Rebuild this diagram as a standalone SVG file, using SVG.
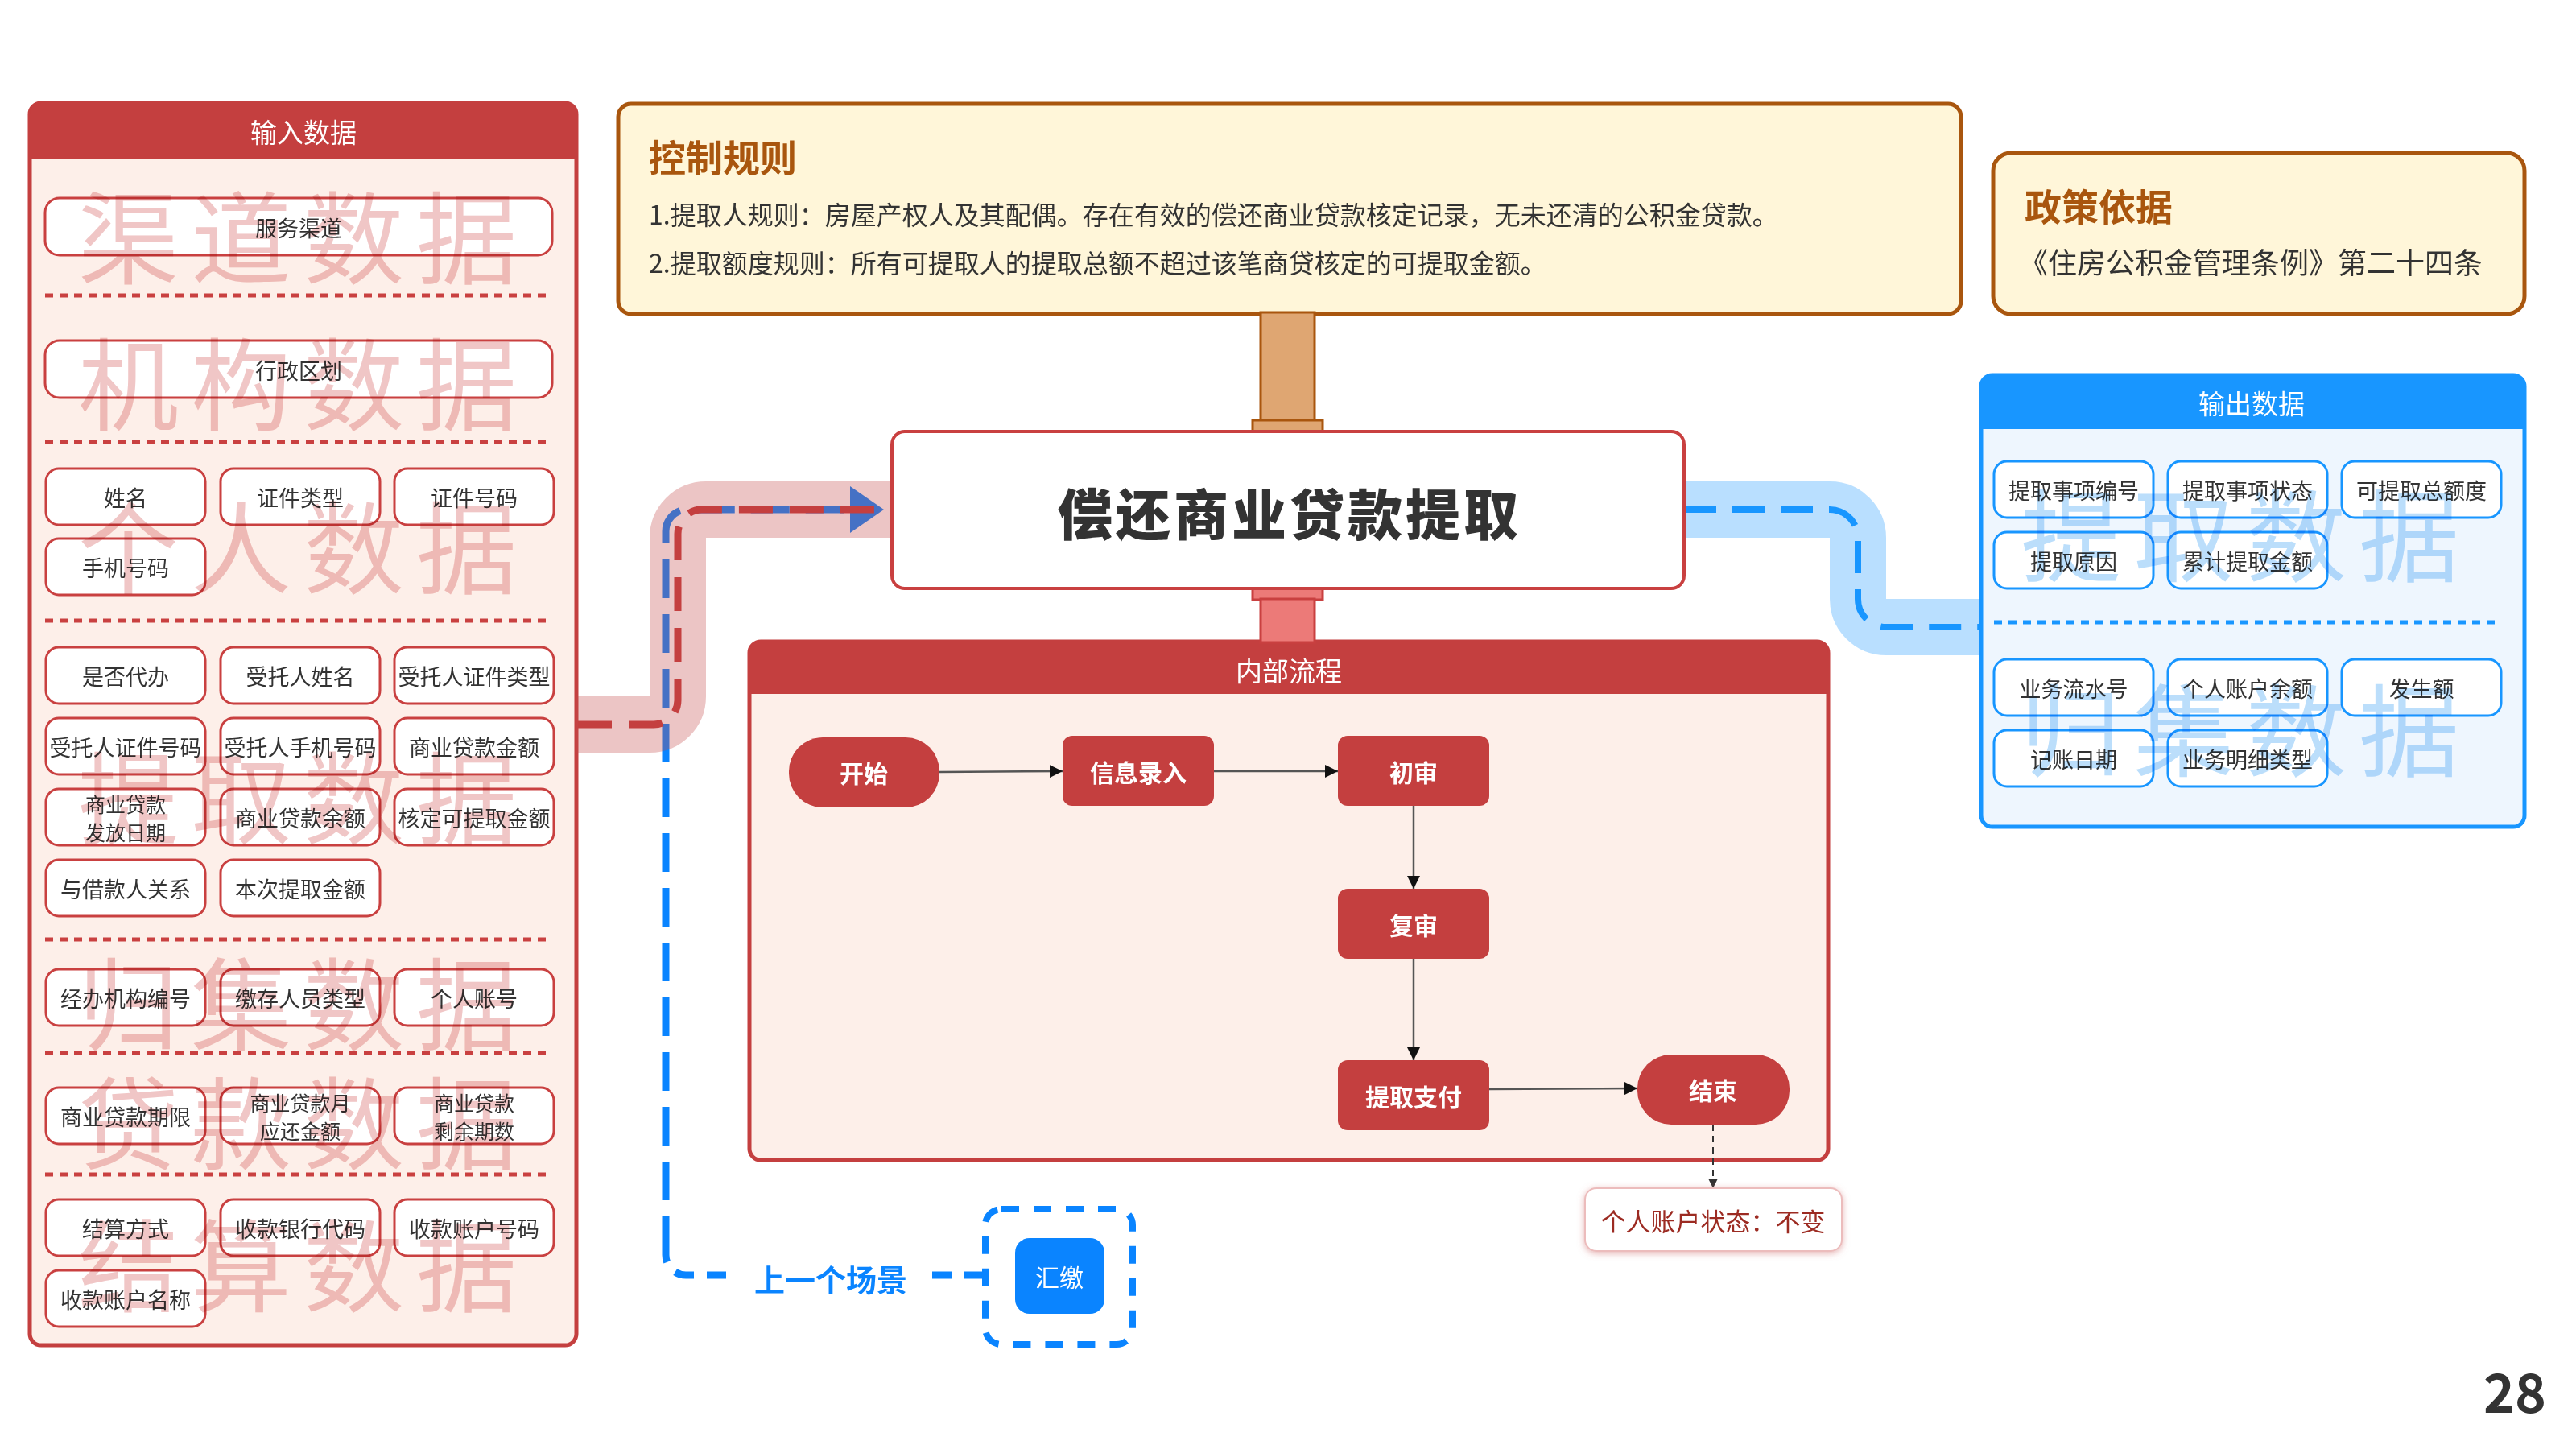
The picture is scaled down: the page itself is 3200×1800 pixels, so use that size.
<svg xmlns="http://www.w3.org/2000/svg" width="3200" height="1800" viewBox="0 0 3200 1800">
<defs>
<style>
text{font-family:"Noto Sans CJK SC","Noto Sans",sans-serif}
.pnl-r{fill:#fdefe9;stroke:#c43f3f;stroke-width:5}
.hdr-r{fill:#c43f3f}
.pnl-b{fill:#eef6fe;stroke:#1896ff;stroke-width:5}
.hdr-b{fill:#1896ff}
.htx{font-size:33px;fill:#fff;text-anchor:middle;dominant-baseline:central}
.bx-r{fill:#fff;stroke:#c94040;stroke-width:3}
.bx-b{fill:#fff;stroke:#1896ff;stroke-width:3}
.lb{font-size:27px;fill:#333;text-anchor:middle;dominant-baseline:central}
.lb2{font-size:25px;fill:#333;text-anchor:middle;dominant-baseline:central}
.dot-r{stroke:#c94040;stroke-width:5;stroke-dasharray:10 8;fill:none}
.dot-b{stroke:#1896ff;stroke-width:5;stroke-dasharray:10 8;fill:none}
.wm-r{font-size:125px;fill:#f0c6c6;letter-spacing:15px;mix-blend-mode:multiply;dominant-baseline:central}
.wm-b{font-size:125px;fill:#bbdefb;letter-spacing:15px;mix-blend-mode:multiply;dominant-baseline:central}
.fn{fill:#c43f3f}
.ft{font-size:30px;font-weight:700;fill:#fff;text-anchor:middle;dominant-baseline:central}
.fl{stroke:#555;stroke-width:2.5;fill:none;marker-end:url(#arr)}
.cream{fill:#fff6d9;stroke:#a9560e;stroke-width:5}
.ttl{font-size:46px;font-weight:700;fill:#a9560e}
.rule{font-size:32px;fill:#333;dominant-baseline:central}
</style>
<marker id="arr" viewBox="0 0 10 10" refX="10" refY="5" markerWidth="16" markerHeight="16" markerUnits="userSpaceOnUse" orient="auto"><path d="M0,0 L10,5 L0,10 z" fill="#111"/></marker>
<marker id="arr2" viewBox="0 0 10 10" refX="10" refY="5" markerWidth="12" markerHeight="12" markerUnits="userSpaceOnUse" orient="auto"><path d="M0,0 L10,5 L0,10 z" fill="#333"/></marker>
<filter id="sh" x="-20%" y="-30%" width="140%" height="160%"><feDropShadow dx="0" dy="2" stdDeviation="4" flood-color="#d07070" flood-opacity="0.55"/></filter>
</defs>
<rect width="3200" height="1800" fill="#fff"/>

<!-- Input panel -->
<g id="input-panel">
<rect class="pnl-r" x="37" y="128" width="679" height="1543" rx="14"/>
<path class="hdr-r" d="M37,142 A14,14 0 0 1 51,128 H702 A14,14 0 0 1 716,142 V197 H37 Z"/>
<text class="htx" x="377" y="163">输入数据</text>
<line class="dot-r" x1="56" y1="367" x2="686" y2="367"/>
<line class="dot-r" x1="56" y1="549" x2="686" y2="549"/>
<line class="dot-r" x1="56" y1="771" x2="686" y2="771"/>
<line class="dot-r" x1="56" y1="1167" x2="686" y2="1167"/>
<line class="dot-r" x1="56" y1="1308" x2="686" y2="1308"/>
<line class="dot-r" x1="56" y1="1459" x2="686" y2="1459"/>
</g>

<!-- Output panel -->
<g id="output-panel">
<rect class="pnl-b" x="2461" y="466" width="675" height="561" rx="14"/>
<path class="hdr-b" d="M2461,480 A14,14 0 0 1 2475,466 H3122 A14,14 0 0 1 3136,480 V533 H2461 Z"/>
<text class="htx" x="2797" y="500">输出数据</text>
<line class="dot-b" x1="2477" y1="773" x2="3107" y2="773"/>
</g>

<!-- Internal process panel -->
<g id="process-panel">
<rect class="pnl-r" x="931" y="797" width="1340" height="644" rx="14"/>
<path class="hdr-r" d="M931,811 A14,14 0 0 1 945,797 H2257 A14,14 0 0 1 2271,811 V862 H931 Z"/>
<text class="htx" x="1601" y="832">内部流程</text>
</g>

<!-- Control rules -->
<g id="control-rules">
<rect class="cream" x="768" y="129" width="1668" height="261" rx="16"/>
<text class="ttl" x="806" y="193" dominant-baseline="central">控制规则</text>
<text class="rule" x="806" y="265">1.提取人规则：房屋产权人及其配偶。存在有效的偿还商业贷款核定记录，无未还清的公积金贷款。</text>
<text class="rule" x="806" y="325">2.提取额度规则：所有可提取人的提取总额不超过该笔商贷核定的可提取金额。</text>
</g>

<!-- Policy -->
<g id="policy">
<rect class="cream" x="2476" y="190" width="660" height="200" rx="22"/>
<text class="ttl" x="2515" y="254" dominant-baseline="central">政策依据</text>
<text x="2508" y="324" font-size="36" fill="#333" dominant-baseline="central">《住房公积金管理条例》第二十四条</text>
</g>

<!-- Connectors -->
<g id="connectors">
<rect x="1566" y="388" width="67" height="136" fill="#dfa672" stroke="#a9560e" stroke-width="3"/>
<rect x="1556" y="522" width="87" height="15" fill="#dfa672" stroke="#a9560e" stroke-width="3"/>
<rect x="1556" y="730" width="87" height="15" fill="#ec7a78" stroke="#c94040" stroke-width="3"/>
<rect x="1566" y="744" width="67" height="54" fill="#ec7a78" stroke="#c94040" stroke-width="3"/>
<path d="M1222,1584 H852 A25,25 0 0 1 827,1559" fill="none" stroke="#0a84ff" stroke-width="9" stroke-dasharray="24 16"/>
<path d="M827,1559 V660 A27,27 0 0 1 854,633 H1058" fill="none" stroke="#0a84ff" stroke-width="9" stroke-dasharray="48 20"/>
<polygon points="1056,604 1098,633 1056,662" fill="#0a84ff"/>
<path d="M716,900 H807 A35,35 0 0 0 842,865 V668 A35,35 0 0 1 877,633 H1108" fill="none" stroke="#c44a4a" stroke-opacity="0.32" stroke-width="70"/>
<path d="M718,900 H812 A30,30 0 0 0 842,870 V663 A30,30 0 0 1 872,633 H1108" fill="none" stroke="#c43f3f" stroke-width="9" stroke-dasharray="42 21"/>
<rect x="906" y="1560" width="250" height="52" fill="#fff"/>
<text x="1032" y="1587" font-size="38" font-weight="700" fill="#0a84ff" text-anchor="middle" dominant-baseline="central">上一个场景</text>
<path d="M2092,633 H2273 A35,35 0 0 1 2308,668 V744 A35,35 0 0 0 2343,779 H2461" fill="none" stroke="#1896ff" stroke-opacity="0.3" stroke-width="70"/>
<path d="M2092,633 H2273 A35,35 0 0 1 2308,668 V744 A35,35 0 0 0 2343,779 H2461" fill="none" stroke="#1896ff" stroke-width="8" stroke-dasharray="40 20"/>
<line class="fl" x1="1167" y1="959" x2="1320" y2="958"/>
<line class="fl" x1="1508" y1="958" x2="1662" y2="958"/>
<line class="fl" x1="1756" y1="1001" x2="1756" y2="1104"/>
<line class="fl" x1="1756" y1="1191" x2="1756" y2="1317"/>
<line class="fl" x1="1850" y1="1353" x2="2034" y2="1352"/>
<line x1="2128" y1="1397" x2="2128" y2="1476" stroke="#333" stroke-width="2" stroke-dasharray="8 6" marker-end="url(#arr2)"/>
</g>

<!-- Main node -->
<g id="main-node">
<rect x="1108" y="536" width="984" height="195" rx="16" fill="#fff" stroke="#c94040" stroke-width="4"/>
<text x="1602" y="635" font-size="68" font-weight="900" fill="#333" letter-spacing="4" text-anchor="middle" dominant-baseline="central">偿还商业贷款提取</text>
</g>

<!-- Input boxes -->
<g id="in-fuwuqudao"><rect class="bx-r" x="56" y="246" width="630" height="71" rx="18"/><text class="lb" x="371" y="282">服务渠道</text></g>
<g id="in-xingzhengquhua"><rect class="bx-r" x="56" y="423" width="630" height="71" rx="18"/><text class="lb" x="371" y="459">行政区划</text></g>
<g id="in-xingming"><rect class="bx-r" x="57" y="582" width="198" height="70" rx="16"/><text class="lb" x="156" y="617">姓名</text></g>
<g id="in-zjlx"><rect class="bx-r" x="274" y="582" width="198" height="70" rx="16"/><text class="lb" x="373" y="617">证件类型</text></g>
<g id="in-zjhm"><rect class="bx-r" x="490" y="582" width="198" height="70" rx="16"/><text class="lb" x="589" y="617">证件号码</text></g>
<g id="in-sjhm"><rect class="bx-r" x="57" y="669" width="198" height="70" rx="16"/><text class="lb" x="156" y="704">手机号码</text></g>
<g id="in-sfdb"><rect class="bx-r" x="57" y="804" width="198" height="70" rx="16"/><text class="lb" x="156" y="839">是否代办</text></g>
<g id="in-strxm"><rect class="bx-r" x="274" y="804" width="198" height="70" rx="16"/><text class="lb" x="373" y="839">受托人姓名</text></g>
<g id="in-strzjlx"><rect class="bx-r" x="490" y="804" width="198" height="70" rx="16"/><text class="lb" x="589" y="839">受托人证件类型</text></g>
<g id="in-strzjhm"><rect class="bx-r" x="57" y="892" width="198" height="70" rx="16"/><text class="lb" x="156" y="927">受托人证件号码</text></g>
<g id="in-strsjhm"><rect class="bx-r" x="274" y="892" width="198" height="70" rx="16"/><text class="lb" x="373" y="927">受托人手机号码</text></g>
<g id="in-sydkje"><rect class="bx-r" x="490" y="892" width="198" height="70" rx="16"/><text class="lb" x="589" y="927">商业贷款金额</text></g>
<g id="in-sydkffrq"><rect class="bx-r" x="57" y="980" width="198" height="70" rx="16"/><text class="lb2" x="156"><tspan x="156" y="998">商业贷款</tspan><tspan x="156" y="1033">发放日期</tspan></text></g>
<g id="in-sydkye"><rect class="bx-r" x="274" y="980" width="198" height="70" rx="16"/><text class="lb" x="373" y="1015">商业贷款余额</text></g>
<g id="in-hdktqje"><rect class="bx-r" x="490" y="980" width="198" height="70" rx="16"/><text class="lb" x="589" y="1015">核定可提取金额</text></g>
<g id="in-yjkrgx"><rect class="bx-r" x="57" y="1068" width="198" height="70" rx="16"/><text class="lb" x="156" y="1103">与借款人关系</text></g>
<g id="in-bctqje"><rect class="bx-r" x="274" y="1068" width="198" height="70" rx="16"/><text class="lb" x="373" y="1103">本次提取金额</text></g>
<g id="in-jbjgbh"><rect class="bx-r" x="57" y="1204" width="198" height="70" rx="16"/><text class="lb" x="156" y="1239">经办机构编号</text></g>
<g id="in-jcrylx"><rect class="bx-r" x="274" y="1204" width="198" height="70" rx="16"/><text class="lb" x="373" y="1239">缴存人员类型</text></g>
<g id="in-grzh"><rect class="bx-r" x="490" y="1204" width="198" height="70" rx="16"/><text class="lb" x="589" y="1239">个人账号</text></g>
<g id="in-sydkqx"><rect class="bx-r" x="57" y="1351" width="198" height="70" rx="16"/><text class="lb" x="156" y="1386">商业贷款期限</text></g>
<g id="in-sydkyhje"><rect class="bx-r" x="274" y="1351" width="198" height="70" rx="16"/><text class="lb2" x="373"><tspan x="373" y="1369">商业贷款月</tspan><tspan x="373" y="1404">应还金额</tspan></text></g>
<g id="in-sydksyqs"><rect class="bx-r" x="490" y="1351" width="198" height="70" rx="16"/><text class="lb2" x="589"><tspan x="589" y="1369">商业贷款</tspan><tspan x="589" y="1404">剩余期数</tspan></text></g>
<g id="in-jsfs"><rect class="bx-r" x="57" y="1490" width="198" height="70" rx="16"/><text class="lb" x="156" y="1525">结算方式</text></g>
<g id="in-skyhdm"><rect class="bx-r" x="274" y="1490" width="198" height="70" rx="16"/><text class="lb" x="373" y="1525">收款银行代码</text></g>
<g id="in-skzhhm"><rect class="bx-r" x="490" y="1490" width="198" height="70" rx="16"/><text class="lb" x="589" y="1525">收款账户号码</text></g>
<g id="in-skzhmc"><rect class="bx-r" x="57" y="1578" width="198" height="70" rx="16"/><text class="lb" x="156" y="1613">收款账户名称</text></g>

<!-- Output boxes -->
<g id="out-tqsxbh"><rect class="bx-b" x="2477" y="573" width="198" height="70" rx="16"/><text class="lb" x="2576" y="608">提取事项编号</text></g>
<g id="out-tqsxzt"><rect class="bx-b" x="2693" y="573" width="198" height="70" rx="16"/><text class="lb" x="2792" y="608">提取事项状态</text></g>
<g id="out-ktqzed"><rect class="bx-b" x="2909" y="573" width="198" height="70" rx="16"/><text class="lb" x="3008" y="608">可提取总额度</text></g>
<g id="out-tqyy"><rect class="bx-b" x="2477" y="661" width="198" height="70" rx="16"/><text class="lb" x="2576" y="696">提取原因</text></g>
<g id="out-ljtqje"><rect class="bx-b" x="2693" y="661" width="198" height="70" rx="16"/><text class="lb" x="2792" y="696">累计提取金额</text></g>
<g id="out-ywlsh"><rect class="bx-b" x="2477" y="819" width="198" height="70" rx="16"/><text class="lb" x="2576" y="854">业务流水号</text></g>
<g id="out-grzhye"><rect class="bx-b" x="2693" y="819" width="198" height="70" rx="16"/><text class="lb" x="2792" y="854">个人账户余额</text></g>
<g id="out-fse"><rect class="bx-b" x="2909" y="819" width="198" height="70" rx="16"/><text class="lb" x="3008" y="854">发生额</text></g>
<g id="out-jzrq"><rect class="bx-b" x="2477" y="907" width="198" height="70" rx="16"/><text class="lb" x="2576" y="942">记账日期</text></g>
<g id="out-ywmxlx"><rect class="bx-b" x="2693" y="907" width="198" height="70" rx="16"/><text class="lb" x="2792" y="942">业务明细类型</text></g>

<!-- Watermarks -->
<g id="watermarks">
<text class="wm-r" x="97" y="288">渠道数据</text>
<text class="wm-r" x="97" y="470">机构数据</text>
<text class="wm-r" x="97" y="673">个人数据</text>
<text class="wm-r" x="97" y="984">提取数据</text>
<text class="wm-r" x="97" y="1240">归集数据</text>
<text class="wm-r" x="97" y="1388">贷款数据</text>
<text class="wm-r" x="97" y="1565">结算数据</text>
<text class="wm-b" x="2510" y="658">提取数据</text>
<text class="wm-b" x="2510" y="900">归集数据</text>
</g>

<!-- Flow nodes -->
<g id="flow-start"><rect class="fn" x="980" y="916" width="187" height="87" rx="42"/><text class="ft" x="1073" y="959">开始</text></g>
<g id="flow-input"><rect class="fn" x="1320" y="914" width="188" height="87" rx="12"/><text class="ft" x="1414" y="958">信息录入</text></g>
<g id="flow-first"><rect class="fn" x="1662" y="914" width="188" height="87" rx="12"/><text class="ft" x="1756" y="958">初审</text></g>
<g id="flow-second"><rect class="fn" x="1662" y="1104" width="188" height="87" rx="12"/><text class="ft" x="1756" y="1148">复审</text></g>
<g id="flow-pay"><rect class="fn" x="1662" y="1317" width="188" height="87" rx="12"/><text class="ft" x="1756" y="1361">提取支付</text></g>
<g id="flow-end"><rect class="fn" x="2034" y="1310" width="189" height="87" rx="42"/><text class="ft" x="2128" y="1353">结束</text></g>

<!-- Status -->
<g id="status-node"><rect x="1969" y="1476" width="319" height="78" rx="14" fill="#fff" stroke="#ecbcbc" stroke-width="2" filter="url(#sh)"/><text x="2128" y="1515" font-size="31" fill="#9c2b22" text-anchor="middle" dominant-baseline="central">个人账户状态：不变</text></g>

<!-- 汇缴 -->
<g id="huijiao">
<rect x="1224" y="1502" width="183" height="168" rx="20" fill="none" stroke="#0a84ff" stroke-width="8" stroke-dasharray="22 18"/>
<rect x="1261" y="1538" width="111" height="94" rx="18" fill="#0a84ff"/>
<text x="1316" y="1585" font-size="30" fill="#fff" text-anchor="middle" dominant-baseline="central">汇缴</text>
</g>

<text x="3163" y="1755" font-family="'Open Sans',sans-serif" font-size="66" font-weight="600" fill="#333" text-anchor="end">28</text>
</svg>
